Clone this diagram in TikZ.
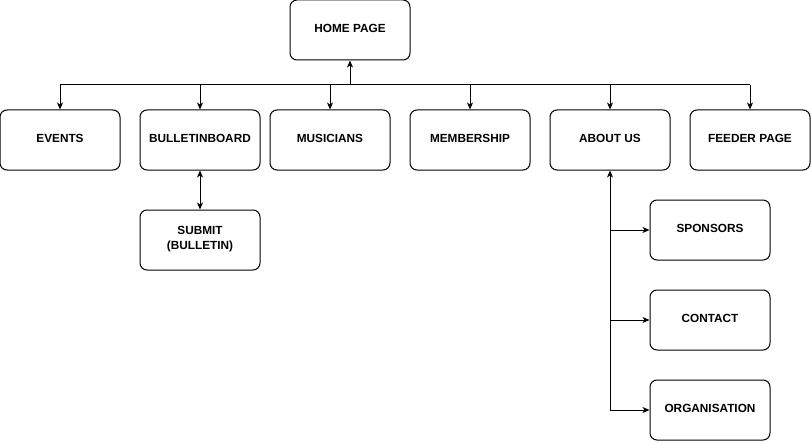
\documentclass[tikz,border=0pt]{standalone}
\usepackage{fontspec}
\setmainfont{Liberation Sans}
\usetikzlibrary{arrows.meta}
\begin{document}
\begin{tikzpicture}[x=1pt,y=-1pt,
  box/.style={draw, line width=1pt, rounded corners=7pt, minimum width=120pt, minimum height=60pt, inner sep=0pt, align=center, text depth=4pt, font=\fontsize{11.8}{14.5}\selectfont\bfseries},
  conn/.style={line width=1pt, -{Stealth[length=7pt,width=6pt,inset=2pt]}},
  dconn/.style={line width=1pt, {Stealth[length=7pt,width=6pt,inset=2pt]}-{Stealth[length=7pt,width=6pt,inset=2pt]}}]
\useasboundingbox (0,0) rectangle (812,444);
\node[box] (home) at (350,30) {HOME PAGE};
\node[box] (events) at (60,140) {EVENTS};
\node[box] (bb) at (200,140) {BULLETINBOARD};
\node[box] (mus) at (330,140) {MUSICIANS};
\node[box] (mem) at (470,140) {MEMBERSHIP};
\node[box] (about) at (610,140) {ABOUT US};
\node[box] (feeder) at (750,140) {FEEDER PAGE};
\node[box] (submit) at (200,240) {SUBMIT\\(BULLETIN)};
\node[box] (spons) at (710,230) {SPONSORS};
\node[box] (contact) at (710,320) {CONTACT};
\node[box] (org) at (710,410) {ORGANISATION};
\coordinate (hub) at (350,85);
\coordinate (hl) at (60,85);
\coordinate (hr) at (750,85);
\draw[line width=1pt] (hl) -- (hr);
\draw[conn] (hub) -- (home.south);
\foreach \n in {events,bb,mus,mem,about,feeder}
  \draw[conn] (\n.north |- hub) -- (\n.north);
\draw[dconn] (bb.south) -- (submit.north);
\coordinate (vb) at (610,410);
\draw[conn] (vb) -- (about.south);
\foreach \n in {spons,contact,org}
  \draw[conn] (about.south |- \n.west) -- (\n.west);
\end{tikzpicture}
\end{document}
